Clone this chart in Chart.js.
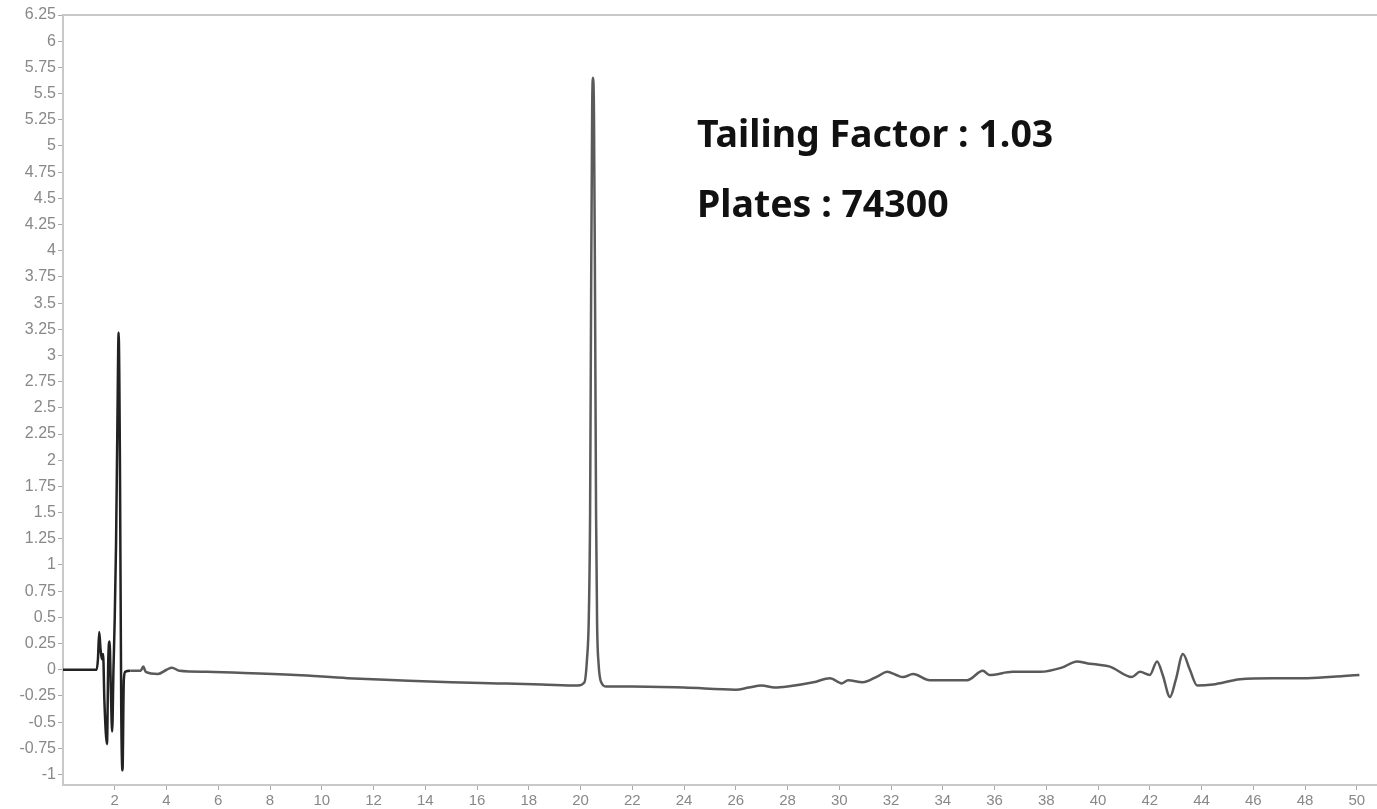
<!DOCTYPE html>
<html>
<head>
<meta charset="utf-8">
<script src="https://cdn.jsdelivr.net/npm/chart.js@4.4.0/dist/chart.umd.min.js"></script>
<style>
  body { margin: 0; background: #fff; }
  #wrap { width: 1377px; height: 809px; }
</style>
</head>
<body>
<div id="wrap"><canvas id="grafico"></canvas></div>
<script>
// tempo (min) e sinal
const tempos = [0, 1.0, 1.3, 1.35, 1.4, 1.45, 1.5, 1.55, 1.6, 1.7, 1.75, 1.8, 1.85, 1.9, 1.95, 2.0, 2.05, 2.1, 2.15, 2.2, 2.25, 2.3, 2.35, 2.4,
  2.6, 3.0, 3.1, 3.2, 3.67, 4.0, 4.21, 4.5, 5.57, 7, 9, 11, 12.9, 15, 16.8, 18.5, 19.9,
  20.15, 20.25, 20.32, 20.37, 20.41, 20.45, 20.48, 20.52, 20.56, 20.6, 20.64, 20.7, 20.8,
  21, 22, 24, 26, 26.5, 27, 27.5, 28, 29, 29.64, 30.1, 30.34, 30.9, 31.5, 31.85, 32.2, 32.46, 32.85, 33.5,
  34.94, 35.55, 35.8, 36.7, 37.76, 38.6, 39.19, 39.6, 39.96, 40.46, 41.31, 41.62, 42.0, 42.28, 42.5, 42.78,
  43.0, 43.28, 43.55, 43.83, 44.44, 45.49, 46.76, 48.08, 49.5, 50.1]
const sinal = [0, 0, 0, 0.1, 0.36, 0.2, 0.1, 0.15, -0.3, -0.71, 0.1, 0.27, -0.2, -0.59, 0, 0.5, 1.2, 2.3, 3.22, 2.0, -0.35, -0.96, -0.1, -0.02,
  -0.01, -0.01, 0.03, -0.02, -0.04, 0, 0.02, -0.01, -0.02, -0.03, -0.05, -0.08, -0.1, -0.12, -0.13, -0.14, -0.15,
  -0.12, 0.1, 0.5, 1.5, 3.6, 5.35, 5.65, 5.3, 3.6, 1.5, 0.45, 0.05, -0.12,
  -0.16, -0.16, -0.17, -0.19, -0.17, -0.15, -0.17, -0.16, -0.12, -0.08, -0.13, -0.1, -0.12, -0.06, -0.02, -0.05, -0.07, -0.04, -0.1,
  -0.1, -0.01, -0.05, -0.02, -0.02, 0.02, 0.08, 0.06, 0.05, 0.03, -0.07, -0.02, -0.05, 0.08, -0.05, -0.26,
  -0.1, 0.15, 0, -0.15, -0.14, -0.09, -0.08, -0.08, -0.06, -0.05]

const ticksX = [2, 4, 6, 8, 10, 12, 14, 16, 18, 20, 22, 24, 26, 28, 30, 32, 34, 36, 38, 40, 42, 44, 46, 48, 50]
const ticksY = [-1, -0.75, -0.5, -0.25, 0, 0.25, 0.5, 0.75, 1, 1.25, 1.5, 1.75, 2, 2.25, 2.5, 2.75, 3, 3.25,
  3.5, 3.75, 4, 4.25, 4.5, 4.75, 5, 5.25, 5.5, 5.75, 6, 6.25]

const textos = ['Tailing Factor : 1.03', 'Plates : 74300']

let pontos = tempos.map((t, i) => ({ x: t, y: sinal[i] }))

// texto e borda de cima
const extras = {
  id: 'extras',
  afterDraw(chart) {
    const c = chart.ctx
    const a = chart.chartArea
    const sx = chart.scales.x
    const sy = chart.scales.y
    c.save()
    c.strokeStyle = '#c8c8c8'
    c.lineWidth = 2
    c.beginPath()
    c.moveTo(a.left, a.top)
    c.lineTo(a.right, a.top)
    c.stroke()
    c.fillStyle = '#111'
    c.font = 'bold 37.5px "Noto Sans"'
    c.textBaseline = 'middle'
    c.fillText(textos[0], sx.getPixelForValue(24.5), sy.getPixelForValue(5.09))
    c.fillText(textos[1], sx.getPixelForValue(24.5), sy.getPixelForValue(4.42))
    c.restore()
  }
}

const ctx = document.getElementById('grafico')
let grafico = new Chart(ctx, {
  type: 'line',
  data: {
    datasets: [{
      data: pontos,
      borderColor: '#5a5a5a',
      borderWidth: 2.5,
      pointRadius: 0,
      cubicInterpolationMode: 'monotone',
      segment: {
        borderColor: s => s.p0.parsed.x < 2.5 ? '#222' : undefined
      }
    }]
  },
  options: {
    responsive: true,
    maintainAspectRatio: false,
    animation: false,
    layout: { padding: { top: 15, right: 0, left: 0, bottom: 0 } },
    plugins: { legend: { display: false }, tooltip: { enabled: false } },
    scales: {
      x: {
        type: 'linear',
        min: 0,
        max: 50.78,
        afterBuildTicks: axis => { axis.ticks = ticksX.map(v => ({ value: v })) },
        afterFit: axis => { axis.height = 24 },
        grid: { drawOnChartArea: false, tickLength: 5, color: '#aaa' },
        border: { color: '#c8c8c8', width: 2 },
        ticks: { color: '#888', font: { family: 'Liberation Sans', size: 15 }, padding: 2, maxRotation: 0, autoSkip: false }
      },
      y: {
        min: -1.1,
        max: 6.25,
        afterBuildTicks: axis => { axis.ticks = ticksY.map(v => ({ value: v })) },
        afterFit: axis => { axis.width = 63 },
        grid: { drawOnChartArea: false, tickLength: 5, color: '#aaa' },
        border: { color: '#c8c8c8', width: 2 },
        ticks: { color: '#888', font: { family: 'Liberation Sans', size: 16 }, padding: 2, autoSkip: false, callback: v => String(v) }
      }
    }
  },
  plugins: [extras]
})
</script>
</body>
</html>
